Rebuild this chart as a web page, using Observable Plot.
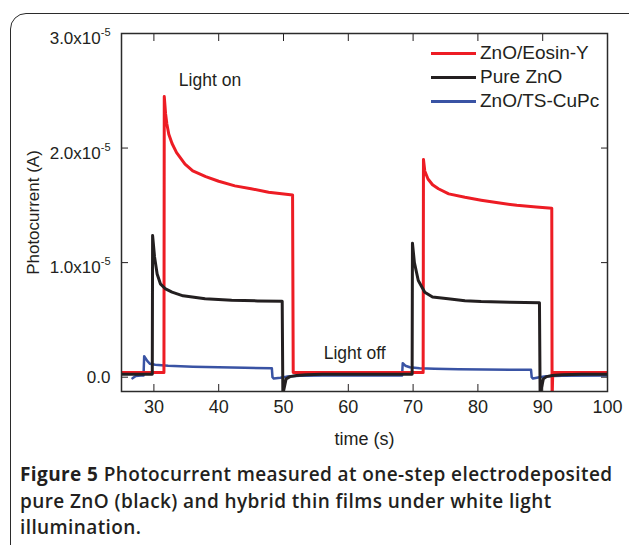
<!DOCTYPE html>
<html><head><meta charset="utf-8">
<script src="https://cdn.jsdelivr.net/npm/d3@7"></script>
<script src="https://cdn.jsdelivr.net/npm/@observablehq/plot@0.6"></script>
<style>
html,body{margin:0;padding:0;background:#fff;width:629px;height:545px;overflow:hidden;}
#box{position:absolute;left:10px;top:13px;width:660px;height:600px;border:1.6px solid #2b2b2b;border-radius:16px;}
#chart{position:absolute;left:0;top:0;}
#legend{position:absolute;left:431px;top:41px;font-family:"Liberation Sans",Arial,sans-serif;font-size:19px;color:#231f20;}
.row{display:flex;align-items:center;height:24px;}
.sw{width:45px;height:3px;margin-right:4px;}
#caption{position:absolute;left:20px;top:461px;font-family:"Open Sans",sans-serif;font-weight:600;font-size:19px;letter-spacing:0.4px;line-height:26.5px;color:#231f20;white-space:nowrap;}
#caption b{font-weight:700;}
</style></head><body>
<div id="box"></div><div id="chart"></div><div id="legend"></div><div id="caption"></div>
<script>
// Photocurrent in units of 1e-5 A, time in s
const seriesNames = ["ZnO/Eosin-Y", "Pure ZnO", "ZnO/TS-CuPc"];
const seriesColors = ["#ed1c24", "#231f20", "#3953a4"];

const tRed = [25, 31.55, 31.6, 31.8, 32.0, 32.3, 32.8, 33.5, 34.8, 36.0, 38.0, 40.0, 42.5, 45.0, 47.7, 51.4, 51.5,
  71.55, 71.6, 71.8, 72.3, 73.0, 73.9, 75.5, 78.0, 80.5, 83.1, 86.0, 89.0, 91.4, 91.45, 91.55, 100];
const iRed = [0.04, 0.04, 2.45, 2.30, 2.21, 2.12, 2.04, 1.96, 1.86, 1.80, 1.75, 1.71, 1.67, 1.645, 1.615, 1.59, 0.04,
  0.04, 1.90, 1.80, 1.73, 1.68, 1.645, 1.60, 1.57, 1.545, 1.522, 1.50, 1.485, 1.475, -0.2, 0.04, 0.04];

const tBlack = [25, 29.75, 29.8, 30.1, 30.5, 31.0, 31.8, 32.8, 34.5, 37.9, 42.0, 46.0, 49.8, 49.9, 50.4, 51.0, 52.0, 53.5, 56,
  69.85, 69.9, 70.2, 70.8, 71.8, 73.0, 75.4, 78.0, 80.5, 85.0, 89.5, 89.6, 90.1, 90.6, 91.5, 93, 96, 100];
const iBlack = [0.025, 0.025, 1.236, 1.05, 0.90, 0.815, 0.77, 0.742, 0.71, 0.684, 0.672, 0.666, 0.663, -0.15, -0.015, 0.005, 0.015, 0.022, 0.025,
  0.025, 1.17, 1.0, 0.844, 0.742, 0.70, 0.684, 0.668, 0.66, 0.654, 0.649, -0.15, -0.015, 0.005, 0.015, 0.022, 0.025, 0.025];

const tBlue = [26.7, 27.2, 28.0, 28.4, 28.5, 29.0, 29.4, 30.2, 32.2, 36.0, 40.0, 44.0, 48.2, 48.3, 48.5, 49.5, 50.5, 52.5, 56,
  68.3, 68.4, 68.8, 69.5, 71.0, 73.3, 77.0, 81.0, 85.0, 88.2, 88.3, 88.5, 89.5, 90.5, 93, 100];
const iBlue = [-0.01, 0.01, 0.015, 0.015, 0.183, 0.14, 0.117, 0.108, 0.10, 0.092, 0.087, 0.082, 0.079, 0.0, -0.012, -0.005, 0.005, 0.012, 0.015,
  0.015, 0.122, 0.10, 0.087, 0.078, 0.073, 0.069, 0.067, 0.065, 0.064, 0.0, -0.012, 0.0, 0.008, 0.012, 0.015];

const xTicks = [30, 40, 50, 60, 70, 80, 90, 100];
const yTicks = [0, 1, 2, 3];
const yTickLabels = ["0.0", "1.0x10^-5", "2.0x10^-5", "3.0x10^-5"];

const annotText = ["Light on", "Light off"];
const annotT = [33.85, 56.2];
const annotI = [2.59, 0.207];

const xLabel = "time (s)";
const yLabel = "Photocurrent (A)";
const captionBold = "Figure 5";
const captionLines = [" Photocurrent measured at one-step electrodeposited",
  "pure ZnO (black) and hybrid thin films under white light",
  "illumination."];

const toRows = (ts, is, s) => ts.map((t, k) => ({t, i: is[k], s}));
const dBlue = toRows(tBlue, iBlue, seriesNames[2]);
const dRed = toRows(tRed, iRed, seriesNames[0]);
const dBlack = toRows(tBlack, iBlack, seriesNames[1]);
const annots = annotText.map((a, k) => ({a, t: annotT[k], i: annotI[k]}));

const plot = Plot.plot({
  width: 629, height: 450,
  marginLeft: 121, marginRight: 22, marginTop: 33, marginBottom: 59,
  x: {domain: [25, 100]},
  y: {domain: [-0.125, 3.0]},
  style: {fontFamily: "'Liberation Sans', Arial, sans-serif", fontSize: "17px", color: "#231f20", background: "transparent", overflow: "visible"},
  marks: [
    Plot.line(dBlue, {x: "t", y: "i", stroke: seriesColors[2], strokeWidth: 2.5, clip: true}),
    Plot.line(dRed, {x: "t", y: "i", stroke: seriesColors[0], strokeWidth: 3, clip: true}),
    Plot.line(dBlack, {x: "t", y: "i", stroke: seriesColors[1], strokeWidth: 3, clip: true}),
    Plot.text(annots, {x: "t", y: "i", text: "a", textAnchor: "start", fontSize: 17.5, fill: "#231f20"}),
    Plot.axisX(xTicks, {anchor: "bottom", tickSize: -7, tickPadding: 16, fontSize: 18, label: xLabel, labelAnchor: "center", labelArrow: "none", labelOffset: 53}),
    Plot.axisX(xTicks, {anchor: "top", tickSize: -7, tickFormat: () => "", label: null}),
    Plot.axisY(yTicks, {anchor: "left", tickSize: -7, tickPadding: 18, tickFormat: d => yTickLabels[yTicks.indexOf(d)], label: yLabel, labelAnchor: "center", labelArrow: "none", labelOffset: 95}),
    Plot.axisY(yTicks, {anchor: "right", tickSize: -7, tickFormat: () => "", label: null}),
    Plot.frame({stroke: "#2b2b2b", strokeWidth: 1.5})
  ]
});
document.getElementById("chart").appendChild(plot);

// superscript exponents in tick labels
d3.select(plot).selectAll("text").each(function() {
  const s = this.textContent;
  if (s.includes("^")) {
    const [base, exp] = s.split("^");
    const el = d3.select(this);
    el.selectAll("*").remove();
    el.text(null);
    el.append("tspan").attr("dy", 5).text(base);
    el.append("tspan").attr("dy", -8).attr("font-size", 11).text(exp);
  }
});

// legend
const legend = d3.select("#legend");
seriesNames.forEach((n, k) => {
  const r = legend.append("div").attr("class", "row");
  r.append("div").attr("class", "sw").style("background", seriesColors[k]);
  r.append("span").text(n);
});

// caption
const cap = d3.select("#caption");
cap.append("b").text(captionBold);
cap.append("span").text(captionLines[0]);
cap.append("br");
cap.append("span").text(captionLines[1]);
cap.append("br");
cap.append("span").text(captionLines[2]);
</script>
</body></html>
